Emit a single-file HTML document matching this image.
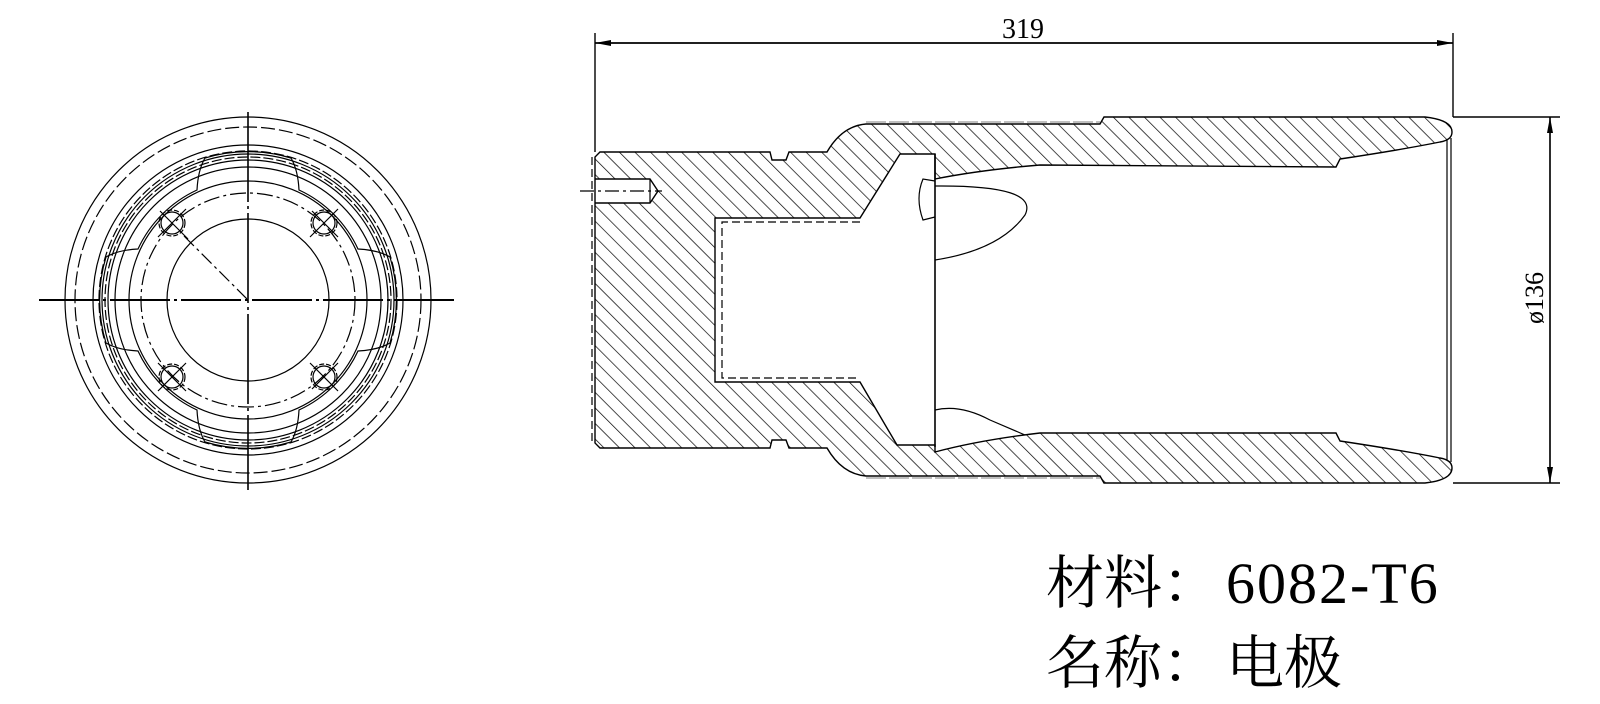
<!DOCTYPE html>
<html><head><meta charset="utf-8"><style>
html,body{margin:0;padding:0;background:#fff;}
svg{display:block;}
</style></head><body>
<svg width="1600" height="704" viewBox="0 0 1600 704" xmlns="http://www.w3.org/2000/svg">
<defs>
<pattern id="h" width="11" height="11" patternUnits="userSpaceOnUse" patternTransform="rotate(-45)">
<line x1="0" y1="0" x2="0" y2="11" stroke="#000" stroke-width="1.4"/>
</pattern>
<marker id="a" markerWidth="16" markerHeight="8" refX="16" refY="4" orient="auto" markerUnits="userSpaceOnUse">
<path d="M0,1 L16,4 L0,7 Z" fill="#000"/>
</marker>
</defs>

<!-- ===== Circle view ===== -->
<g fill="none" stroke="#000" stroke-width="1.2">
<circle cx="248" cy="300" r="183"/>
<circle cx="248" cy="300" r="173" stroke-dasharray="14 4"/>
<circle cx="248" cy="300" r="155"/>
<circle cx="248" cy="300" r="149" stroke-dasharray="10 3"/>
<circle cx="248" cy="300" r="146"/>
<circle cx="248" cy="300" r="143" stroke-dasharray="10 3"/>
<circle cx="248" cy="300" r="140"/>
<circle cx="248" cy="300" r="133"/>
<circle cx="248" cy="300" r="119"/>
<circle cx="248" cy="300" r="107" stroke-dasharray="16 4 3 4"/>
<circle cx="248" cy="300" r="81"/>
<path d="M197,190 Q198,170 205,158 A148,148 0 0 1 291,158 Q298,170 299,190 A121,121 0 0 1 358,249 Q378,250 390,257 A148,148 0 0 1 390,343 Q378,350 358,351 A121,121 0 0 1 299,410 Q298,430 291,442 A148,148 0 0 1 205,442 Q198,430 197,410 A121,121 0 0 1 138,351 Q118,350 106,343 A148,148 0 0 1 106,257 Q118,250 138,249 A121,121 0 0 1 197,190 Z"/>
<g>
<circle cx="172" cy="223" r="11"/><circle cx="172" cy="223" r="13" stroke-dasharray="5 2"/>
<circle cx="324" cy="223" r="11"/><circle cx="324" cy="223" r="13" stroke-dasharray="5 2"/>
<circle cx="172" cy="377" r="11"/><circle cx="172" cy="377" r="13" stroke-dasharray="5 2"/>
<circle cx="324" cy="377" r="11"/><circle cx="324" cy="377" r="13" stroke-dasharray="5 2"/>
<path d="M160,211 L188,239 M186,209 L158,237"/>
<path d="M312,211 L338,237 M338,209 L310,237"/>
<path d="M158,363 L186,391 M186,363 L158,391"/>
<path d="M310,363 L338,391 M338,363 L312,389"/>
</g>
<path d="M184,236 L248,300" stroke-dasharray="14 4 3 4"/>
<path d="M39,300 L458,300" stroke-width="2" stroke-dasharray="60 4 3 4"/>
<path d="M248,112 L248,490" stroke-width="1.6" stroke-dasharray="90 4 3 4"/>
</g>

<!-- ===== Section view ===== -->
<path fill="url(#h)" fill-rule="evenodd" stroke="#000" stroke-width="1.4" d="
M600,152 L770,152 L772,160 L786,160 L789,152 L827,152 Q842,126 866,124 L1100,124 L1104,117 L1425,117 Q1452,120 1452,132 Q1452,140 1440,142 Q1400,150 1340,159 L1336,167 L1040,165 Q980,170 935,179 L935,154 L900,154 L860,218 L715,218 L715,382 L860,382 L897,445 L935,445 L935,452 Q980,440 1040,433 L1336,433 L1340,441 Q1400,450 1440,458 Q1452,460 1452,468 Q1452,480 1425,483 L1104,483 L1100,476 L866,476 Q842,474 827,448 L789,448 L786,440 L772,440 L770,448 L600,448 L595,443 L595,157 Z
M595,179 L650,179 L658,191 L650,203 L595,203 Z"/>
<g fill="none" stroke="#000" stroke-width="1.2">
<path d="M650,179 L650,203"/>
<path d="M580,191 L662,191" stroke-dasharray="14 4 3 4"/>
<path d="M592,157 L592,445" stroke-dasharray="8 4"/>
<path d="M860,222 L722,222 L722,378 L860,378" stroke-dasharray="8 4"/>
<path d="M935,154 L935,447" stroke-width="1.6"/>
<path d="M935,186 Q1040,185 1025,215 Q1000,250 935,260"/>
<path d="M935,181 L923,179 Q915,198 923,220 L935,217"/>
<path d="M935,410 Q960,404 990,420 L1025,435"/>
<path d="M1447,140 L1447,460 M1451,138 L1451,462"/>
<path d="M866,122 L1100,122" stroke-width="0.6" stroke-dasharray="20 3"/>
<path d="M866,478 L1100,478" stroke-width="0.6" stroke-dasharray="20 3"/>
</g>

<!-- dimensions -->
<g stroke="#000" stroke-width="1.4" fill="none">
<path d="M595,33 L595,152"/>
<path d="M1453,33 L1453,117"/>
<path d="M595,43 L1453,43" marker-end="url(#a)"/>
<path d="M1453,43 L595,43" marker-end="url(#a)"/>
<path d="M1453,117 L1560,117 M1453,483 L1560,483"/>
<path d="M1550,117 L1550,483" marker-end="url(#a)"/>
<path d="M1550,483 L1550,117" marker-end="url(#a)"/>
</g>
<text x="1023" y="38" font-family="'Liberation Serif',serif" font-size="28" text-anchor="middle">319</text>
<text transform="translate(1543,298) rotate(-90)" font-family="'Liberation Serif',serif" font-size="26" text-anchor="middle">ø136</text>

<text x="1046" y="603" font-family="'Liberation Serif','Noto Serif CJK SC',serif" font-size="58">材料：<tspan x="1226" letter-spacing="2">6082-T6</tspan></text>
<text x="1046" y="683" font-family="'Liberation Serif','Noto Serif CJK SC',serif" font-size="58">名称：<tspan x="1226">电极</tspan></text>
</svg>
</body></html>
